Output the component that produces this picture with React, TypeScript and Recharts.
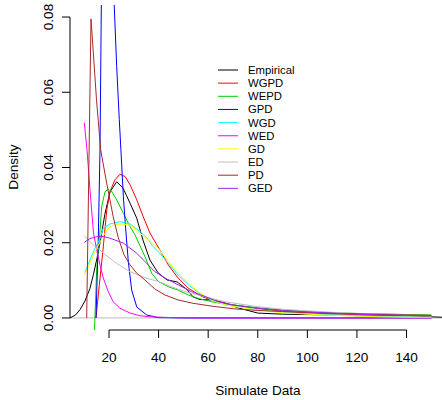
import React from 'react';
import { LineChart, Line, XAxis, YAxis, ReferenceLine, Legend, Label } from 'recharts';

const FONT = '"Liberation Sans", Arial, Helvetica, sans-serif';

const seriesNames = ['Empirical', 'WGPD', 'WEPD', 'GPD', 'WGD', 'WED', 'GD', 'ED', 'PD', 'GED'];
const seriesColors = ['#000000', '#FF0000', '#00CD00', '#0000FF', '#00FFFF', '#FF00FF', '#FFFF00', '#BEBEBE', '#A52A2A', '#A020F0'];

const xTicks = [20, 40, 60, 80, 100, 120, 140];
const yTicks = [0, 0.02, 0.04, 0.06, 0.08];
const xDomain = [4.27, 154.3];
const yDomain = [-0.0032, 0.0832];

const empiricalX = [4.3, 6.5, 8.3, 10.3, 12.3, 13.7, 15.2, 16.8, 18.3, 20.4, 23.1, 25.6, 27.1, 28.5, 31.2, 33.8, 36.5, 39.8, 43.4, 47.4, 51.4, 53.9, 56.7, 61.5, 66.8, 72, 80, 90, 100, 110, 120, 130, 140, 150, 154.3];
const empiricalY = [0, 0.0008, 0.0022, 0.0045, 0.0078, 0.0115, 0.016, 0.0215, 0.0275, 0.0335, 0.0362, 0.0346, 0.0325, 0.0305, 0.0265, 0.0205, 0.0154, 0.012, 0.0101, 0.0096, 0.0076, 0.0056, 0.0049, 0.0048, 0.004, 0.0027, 0.0013, 0.001, 0.0009, 0.0008, 0.0006, 0.0005, 0.0006, 0.0003, 0.0002];

const wgpdX = [14.76, 16.1, 17.5, 19.1, 20.4, 22.4, 24.4, 26.5, 28.5, 31.2, 33.8, 36.5, 40.6, 43.9, 47.9, 52.0, 57.4, 61.4, 66.8, 70.8, 80, 90, 100, 110, 120, 130, 140, 150];
const wgpdY = [0, 0.0088, 0.0176, 0.0287, 0.0336, 0.0367, 0.0382, 0.0376, 0.0354, 0.0314, 0.0269, 0.0226, 0.018, 0.0141, 0.0106, 0.0079, 0.0057, 0.0048, 0.0039, 0.0034, 0.0025, 0.0018, 0.0014, 0.0011, 0.0009, 0.0007, 0.0006, 0.0005];

const wepdX = [14.07, 15.04, 16.1, 17.06, 18.4, 19.7, 21.1, 23.1, 25.8, 28.5, 30.5, 34.5, 37.2, 39.9, 43.9, 47.9, 52.0, 56.0, 61.4, 66.8, 80, 90, 100, 110, 120, 130, 140, 150];
const wepdY = [-0.0045, 0.0132, 0.0207, 0.0296, 0.0336, 0.0342, 0.0336, 0.0314, 0.0278, 0.0243, 0.0221, 0.0163, 0.0119, 0.0097, 0.0083, 0.0074, 0.0061, 0.0052, 0.0043, 0.0037, 0.0027, 0.0021, 0.0017, 0.0014, 0.0012, 0.0011, 0.0009, 0.0008];

const gpdX = [14.76, 15.69, 16.37, 16.9, 18.5, 22.1, 23.1, 24.15, 24.8, 25.8, 26.7, 27.8, 29.15, 31.2, 35.2, 39.8, 50, 150];
const gpdY = [0, 0.0215, 0.0447, 0.0832, 0.12, 0.0832, 0.0668, 0.0527, 0.0447, 0.0322, 0.0239, 0.0149, 0.0074, 0.0029, 0.0008, 0.0001, 0, 0];

const wgdX = [10.3, 12.3, 14.35, 16.1, 17.7, 20.4, 24.4, 28.5, 32.5, 35.8, 37.2, 39.9, 43.9, 47.9, 52.0, 56.7, 61.5, 66.8, 80, 90, 100, 110, 120, 130, 140, 150];
const wgdY = [0.0122, 0.0154, 0.0185, 0.0207, 0.0239, 0.025, 0.0256, 0.025, 0.023, 0.0209, 0.0194, 0.0176, 0.0145, 0.0114, 0.0088, 0.0064, 0.0047, 0.0035, 0.0022, 0.0015, 0.0011, 0.0008, 0.0006, 0.0004, 0.0003, 0.0002];

const wedX = [10.04, 11.13, 12.34, 13.75, 15.04, 16.37, 17.7, 19.7, 21.7, 24.4, 28.5, 32.5, 36.5, 45, 60, 150];
const wedY = [0.0519, 0.0447, 0.034, 0.0226, 0.0181, 0.0141, 0.0106, 0.007, 0.0043, 0.0026, 0.0013, 0.0006, 0.0003, 0.0001, 0, 0];

const gdX = [10.04, 11.65, 13.7, 15.04, 17.0, 19.1, 21.7, 25.1, 29.15, 32.5, 35.8, 39.9, 43.9, 47.9, 52.0, 56.0, 61.4, 66.8, 70.8, 80, 90, 100, 110, 120, 130, 140, 150];
const gdY = [0.0114, 0.0136, 0.0168, 0.0185, 0.021, 0.0234, 0.0247, 0.025, 0.0245, 0.0225, 0.0207, 0.0185, 0.015, 0.0119, 0.0092, 0.007, 0.0048, 0.0035, 0.003, 0.0021, 0.0014, 0.001, 0.0007, 0.0005, 0.0003, 0.0002, 0.0002];

const edX = [10.04, 13.7, 16.37, 17.7, 23.1, 28.5, 34.5, 39.9, 45.3, 50.6, 56.0, 61.4, 66.8, 80, 90, 100, 110, 120, 130, 140, 150];
const edY = [0.0218, 0.0194, 0.0181, 0.0172, 0.0145, 0.0123, 0.0107, 0.0097, 0.0083, 0.007, 0.0061, 0.0052, 0.0043, 0.003, 0.0023, 0.0019, 0.0015, 0.0012, 0.001, 0.0008, 0.0006];

const pdX = [11.0, 12.74, 14.96, 16.65, 19.07, 21.7, 23.75, 26.05, 28.5, 31.2, 34.5, 38.5, 42.6, 47.8, 53.9, 61.9, 70.8, 80, 90, 100, 110, 120, 130, 140, 150];
const pdY = [0, 0.0795, 0.058, 0.0447, 0.0358, 0.0269, 0.0213, 0.0168, 0.0141, 0.0119, 0.0101, 0.0077, 0.0061, 0.0048, 0.0039, 0.0031, 0.0024, 0.002, 0.0017, 0.0014, 0.0012, 0.0011, 0.0009, 0.0008, 0.0007];

const gedX = [10.04, 12.3, 15.04, 17.6, 20.4, 25.8, 31.2, 34.5, 38.5, 42.6, 47.9, 53.3, 58.7, 64.1, 69.5, 80, 90, 100, 110, 120, 130, 140, 150];
const gedY = [0.0201, 0.0211, 0.0216, 0.0217, 0.0212, 0.0199, 0.0172, 0.015, 0.0123, 0.0106, 0.0088, 0.007, 0.0057, 0.0043, 0.0035, 0.0026, 0.002, 0.0016, 0.0013, 0.001, 0.0008, 0.0007, 0.0006];

const seriesXs = [empiricalX, wgpdX, wepdX, gpdX, wgdX, wedX, gdX, edX, pdX, gedX];
const seriesYs = [empiricalY, wgpdY, wepdY, gpdY, wgdY, wedY, gdY, edY, pdY, gedY];

const toPoints = (xs: number[], ys: number[]) => xs.map((x, i) => ({ x, y: ys[i] }));

const series = seriesNames.map((name, i) => ({
  name,
  color: seriesColors[i],
  data: toPoints(seriesXs[i], seriesYs[i]),
}));

const YTick = (props: any) => {
  const { x, y, payload } = props;
  const bx = x - 7;
  return (
    <text
      x={bx}
      y={y}
      transform={`rotate(-90 ${bx} ${y})`}
      textAnchor="middle"
      fontSize={13.6}
      fontFamily={FONT}
      fill="#000"
    >
      {Number(payload.value).toFixed(2)}
    </text>
  );
};

const renderLegend = () => (
  <svg width={120} height={135} style={{ display: 'block' }}>
    {series.map((s, i) => {
      const cy = 8 + i * 13.15;
      return (
        <g key={s.name}>
          <line x1={0} x2={20} y1={cy} y2={cy} stroke={s.color} strokeWidth={1} />
          <text x={30} y={cy + 4} fontSize={11.3} fontFamily={FONT} fill="#000">
            {s.name}
          </text>
        </g>
      );
    })}
  </svg>
);

export default function App() {
  return (
    <div style={{ position: 'absolute', left: 0, top: 0, background: '#fff' }}>
      <LineChart width={442} height={400} margin={{ top: 5, right: 0, bottom: 0, left: 0 }}>
        <XAxis
          type="number"
          dataKey="x"
          domain={xDomain}
          ticks={xTicks}
          interval={0}
          allowDataOverflow
          axisLine={false}
          tickSize={8}
          tickMargin={14}
          height={70}
          tickLine={{ stroke: '#000' }}
          tick={{ fill: '#000', fontSize: 13.6, fontFamily: FONT }}
        >
          <Label
            content={() => (
              <text x={258} y={395} textAnchor="middle" fontSize={13.6} fontFamily={FONT} fill="#000">
                Simulate Data
              </text>
            )}
          />
        </XAxis>
        <YAxis
          type="number"
          domain={yDomain}
          ticks={yTicks}
          interval={0}
          allowDataOverflow
          axisLine={false}
          tickSize={8}
          tickMargin={2}
          width={70}
          tickLine={{ stroke: '#000' }}
          tick={<YTick />}
        >
          <Label
            content={() => (
              <text
                x={18}
                y={167}
                transform="rotate(-90 18 167)"
                textAnchor="middle"
                fontSize={13.6}
                fontFamily={FONT}
                fill="#000"
              >
                Density
              </text>
            )}
          />
        </YAxis>
        <ReferenceLine y={0} stroke="#BEBEBE" strokeWidth={1} />
        <ReferenceLine
          segment={[{ x: xDomain[0], y: 0 }, { x: xDomain[0], y: 0.08 }]}
          stroke="#000"
          strokeWidth={1}
          ifOverflow="visible"
        />
        <ReferenceLine
          segment={[{ x: 20, y: yDomain[0] }, { x: 140, y: yDomain[0] }]}
          stroke="#000"
          strokeWidth={1}
          ifOverflow="visible"
        />
        {series.map((s) => (
          <Line
            key={s.name}
            data={s.data}
            dataKey="y"
            name={s.name}
            type="linear"
            stroke={s.color}
            strokeWidth={1}
            dot={false}
            activeDot={false}
            isAnimationActive={false}
          />
        ))}
        <Legend
          layout="vertical"
          align="center"
          verticalAlign="middle"
          wrapperStyle={{ left: 218, top: 62, width: 120, height: 135 }}
          content={renderLegend}
        />
      </LineChart>
    </div>
  );
}
